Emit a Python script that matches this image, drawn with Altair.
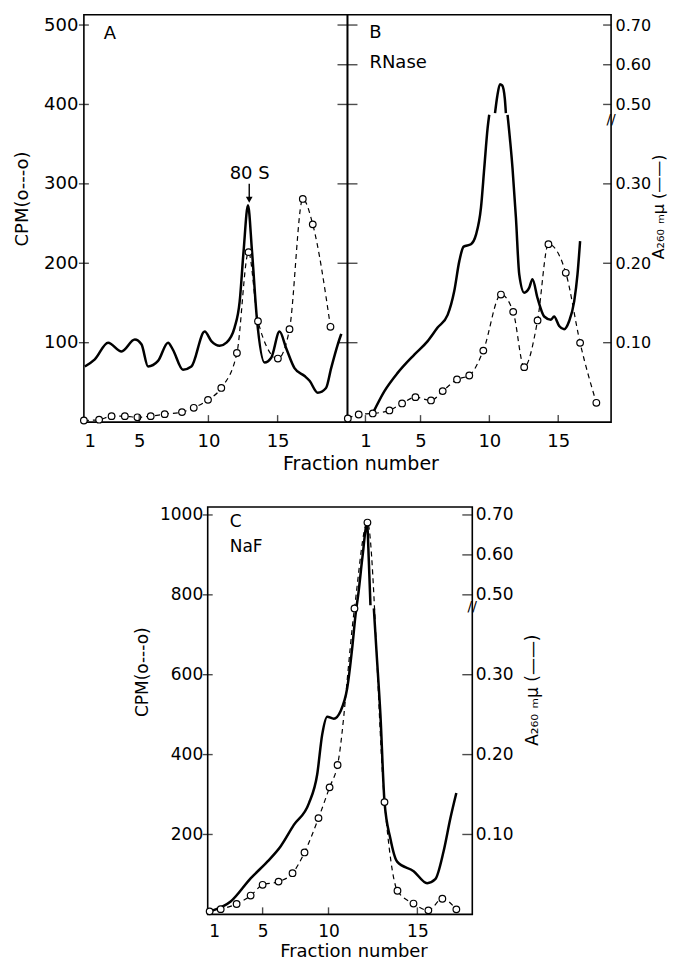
import altair as alt
import pandas as pd

FONT = "DejaVu Sans"

# ---------------- tick values ----------------
FRACTION_TICKS = [1, 5, 10, 15]
CPM_TICKS_AB = [100, 200, 300, 400, 500]
CPM_TICKS_C = [200, 400, 600, 800, 1000]
A260_TICKS = [0.10, 0.20, 0.30, 0.50, 0.60, 0.70]

# ---------------- panel A ----------------
A_CPM_FRACTION = [1.0, 2.1, 3.0, 3.96, 4.87, 5.83, 6.84, 8.09, 8.94, 9.97, 10.93,
                  12.06, 12.9, 13.58, 15.02, 15.86, 16.82, 17.54, 18.82]
A_CPM = [2, 3, 7.5, 7.5, 6, 7.5, 10, 12.6, 18, 28, 43, 87, 214, 127, 80, 117, 281, 249, 120]
A_A260_FRACTION = [1.07, 1.79, 2.75, 3.72, 4.68, 5.16, 5.64, 6.36, 7.08, 7.44, 8.16, 8.77,
                   9.73, 10.21, 10.81, 11.3, 11.89, 12.26, 12.54, 12.86, 13.15, 13.5, 14.06,
                   14.54, 15.14, 15.62, 16.22, 16.95, 17.31, 17.9, 18.5, 18.87, 19.35, 19.6]
A_A260 = [0.070, 0.079, 0.100, 0.089, 0.104, 0.098, 0.070, 0.077, 0.100, 0.091, 0.066, 0.070,
          0.114, 0.102, 0.096, 0.100, 0.119, 0.152, 0.215, 0.273, 0.215, 0.131, 0.075,
          0.081, 0.114, 0.093, 0.068, 0.058, 0.052, 0.037, 0.043, 0.068, 0.098, 0.111]
A_A260_SEGMENT = [1] * len(A_A260)

# ---------------- panel B (RNase) ----------------
B_CPM_FRACTION = [-0.28, 0.51, 1.53, 2.74, 3.66, 4.63, 5.76, 6.61, 7.65, 8.54, 9.56,
                  10.84, 11.73, 12.53, 13.5, 14.29, 15.55, 16.59, 17.77]
B_CPM = [4.6, 9.6, 10.9, 14.7, 23.5, 31.4, 27.3, 39, 53.7, 58.7, 90, 160.6, 138.8,
         69.2, 128, 224, 188, 99.8, 24.3]
B_A260_FRACTION = [1.53, 2.38, 3.34, 4.55, 5.52, 6.24, 6.97, 7.45, 7.82, 8.13, 8.66, 9.03,
                   9.39, 9.63, 9.87, 9.99,
                   10.41, 10.57, 10.77, 10.93, 11.12, 11.2,
                   11.32, 11.68, 11.93, 12.17, 12.53, 12.89, 13.13, 13.5, 13.98, 14.47, 14.7,
                   15.07, 15.43, 15.79, 16.16, 16.4, 16.59]
B_A260 = [0.011, 0.039, 0.062, 0.085, 0.102, 0.119, 0.135, 0.165, 0.203, 0.221, 0.224, 0.236,
          0.270, 0.320, 0.370, 0.387,
          0.478, 0.520, 0.551, 0.548, 0.515, 0.478,
          0.387, 0.320, 0.257, 0.186, 0.163, 0.169, 0.180, 0.156, 0.133, 0.129, 0.133,
          0.121, 0.117, 0.127, 0.152, 0.186, 0.228]
B_A260_SEGMENT = [1] * 16 + [2] * 6 + [3] * 17

# ---------------- panel C (NaF) ----------------
C_CPM_FRACTION = [1.07, 1.89, 3.07, 4.11, 5.0, 6.21, 7.27, 8.18, 9.24, 10.06, 10.51,
                  11.46, 12.19, 13.15, 13.88, 14.78, 15.62, 16.41, 17.2]
C_CPM = [7.5, 13, 26, 47, 74, 82, 103, 155, 241, 318, 374, 766, 981, 281, 59, 27, 10, 39, 12.5]
C_A260_FRACTION = [1.15, 2.63, 4.11, 5.36, 6.36, 7.37, 8.51, 9.14, 9.52, 9.9, 10.3, 10.67,
                   11.05, 11.33, 11.52, 11.69, 11.91, 12.17, 12.27, 12.36,
                   12.55, 12.7, 12.92, 13.15, 13.48, 13.86, 14.79, 15.55, 16.01, 16.48, 16.86, 17.2]
C_A260 = [0.004, 0.016, 0.045, 0.066, 0.085, 0.112, 0.139, 0.175, 0.225, 0.2475, 0.245, 0.254,
          0.283, 0.333, 0.375, 0.507, 0.595, 0.678, 0.583, 0.474,
          0.383, 0.329, 0.250, 0.141, 0.095, 0.066, 0.054, 0.039, 0.044, 0.079, 0.120, 0.152]
C_A260_SEGMENT = [1] * 20 + [2] * 12


def a260_pos(a, k):
    """Broken right axis: linear below the break, compressed above 0.50."""
    return a * k if a < 0.43 else 0.4 * k + (a - 0.5) * k / 2


def a260_df(fr, vals, seg, k):
    return pd.DataFrame({"f": fr, "pos": [a260_pos(v, k) for v in vals], "seg": seg})


def cpm_df(fr, vals):
    return pd.DataFrame({"f": fr, "pos": vals})


def X(scale, axis):
    return alt.X("f:Q", scale=scale, axis=axis)


def Y(scale, axis):
    return alt.Y("pos:Q", scale=scale, axis=axis)


def solid(df, xs, ys, xa, ya):
    return alt.Chart(df).mark_line(color="black", strokeWidth=2.5, interpolate="monotone").encode(
        x=X(xs, xa), y=Y(ys, ya), detail="seg:N")


def dashed(df, xs, ys, xa, ya):
    return alt.Chart(df).mark_line(color="black", strokeWidth=1.2, strokeDash=[5, 4],
                                   interpolate="monotone").encode(x=X(xs, xa), y=Y(ys, ya))


def circles(df, xs, ys, xa, ya):
    return alt.Chart(df).mark_circle(size=44, fill="white", stroke="black", strokeWidth=1.2,
                                     opacity=1).encode(x=X(xs, xa), y=Y(ys, ya))


def yticks(vals, xpx, size, ys, ya):
    return alt.Chart(pd.DataFrame({"pos": vals})).mark_tick(
        orient="horizontal", size=size, thickness=1.4, color="black").encode(
        x=alt.value(xpx), y=Y(ys, ya))


def xticks(vals, ypx, xs, xa):
    return alt.Chart(pd.DataFrame({"f": vals})).mark_tick(
        orient="vertical", size=7, thickness=1.4, color="black").encode(
        x=X(xs, xa), y=alt.value(ypx))


def label(f, pos, text, xs, ys, xa, ya, size, align="center"):
    return alt.Chart(pd.DataFrame({"f": [f], "pos": [pos], "t": [text]})).mark_text(
        align=align, baseline="middle", fontSize=size, font=FONT, color="black").encode(
        x=X(xs, xa), y=Y(ys, ya), text="t:N")


def brk(pos, xpx, ys, ya):
    return alt.Chart(pd.DataFrame({"pos": [pos], "t": ["//"]})).mark_text(
        align="center", baseline="middle", fontSize=14, font=FONT, color="black").encode(
        x=alt.value(xpx), y=Y(ys, ya), text="t:N")


W, H = 264, 408
A260_TITLE = "A\u2082\u2086\u2080 \u2098\u03bc  (\u2014\u2014)"

# ================= Panel A =================
xsA = alt.Scale(domain=[1, 20.05], nice=False, zero=False)
ysA = alt.Scale(domain=[0, 513], nice=False, zero=False)
xaA = alt.Axis(values=FRACTION_TICKS, format="d", title="Fraction number", labelPadding=10,
               titlePadding=4, titleX=277, titleAlign="center", labelFontSize=18, titleFontSize=19)
yaA = alt.Axis(values=CPM_TICKS_AB, format="d", orient="left", title="CPM(o---o)", labelPadding=6,
               titlePadding=12, titleY=184, labelFontSize=18, titleFontSize=18)
a_cpm = cpm_df(A_CPM_FRACTION, A_CPM)
a_abs = a260_df(A_A260_FRACTION, A_A260, A_A260_SEGMENT, 1000)
arrow_df = pd.DataFrame({"f": [12.95], "pos": [300], "pos2": [280]})
panelA = alt.layer(
    solid(a_abs, xsA, ysA, xaA, yaA),
    dashed(a_cpm, xsA, ysA, xaA, yaA),
    circles(a_cpm, xsA, ysA, xaA, yaA),
    yticks(CPM_TICKS_AB, 0, 10, ysA, yaA),
    xticks([5, 10, 15], H - 3.5, xsA, xaA),
    label(2.88, 489, "A", xsA, ysA, xaA, yaA, 18),
    label(12.98, 313, "80 S", xsA, ysA, xaA, yaA, 18),
    alt.Chart(arrow_df).mark_rule(color="black", strokeWidth=1.4).encode(
        x=X(xsA, xaA), y=Y(ysA, yaA), y2="pos2:Q"),
    alt.Chart(arrow_df).mark_point(shape="triangle-down", filled=True, color="black", size=45,
                                   opacity=1).encode(x=X(xsA, xaA), y=alt.Y("pos2:Q", scale=ysA, axis=yaA)),
).properties(width=W, height=H)

# ================= Panel B =================
xsB = alt.Scale(domain=[-0.305, 18.84], nice=False, zero=False)
ysB = alt.Scale(domain=[0, 513], nice=False, zero=False)
xaB = alt.Axis(values=FRACTION_TICKS, format="d", title=None, labelPadding=10, labelFontSize=18)
A260_POS_B = [a260_pos(v, 1000) for v in A260_TICKS]
yaB = alt.Axis(values=A260_POS_B, orient="right",
               labelExpr="datum.value < 350 ? format(datum.value/1000, '.2f') : format(0.5 + (datum.value - 400)/500, '.2f')",
               title=A260_TITLE, titleAngle=270, titleBaseline="top", labelPadding=4,
               titlePadding=0, titleY=192, labelFontSize=16, titleFontSize=16)
b_cpm = cpm_df(B_CPM_FRACTION, B_CPM)
b_abs = a260_df(B_A260_FRACTION, B_A260, B_A260_SEGMENT, 1000)
panelB = alt.layer(
    solid(b_abs, xsB, ysB, xaB, yaB),
    dashed(b_cpm, xsB, ysB, xaB, yaB),
    circles(b_cpm, xsB, ysB, xaB, yaB),
    yticks(A260_POS_B, 0, 20, ysB, yaB),
    yticks(A260_POS_B, W - 4, 8, ysB, yaB),
    xticks([1, 5, 10, 15], H - 3.5, xsB, xaB),
    label(1.73, 490, "B", xsB, ysB, xaB, yaB, 18),
    label(1.29, 452, "RNase", xsB, ysB, xaB, yaB, 18, align="left"),
    brk(381, W, ysB, yaB),
).properties(width=W, height=H)

# ================= Panel C =================
WC, HC = 265, 408
xsC = alt.Scale(domain=[1, 5, 10, 15, 18.1], range=[1, 55, 121, 210, 265], zero=False, nice=False)
ysC = alt.Scale(domain=[0, 1020], nice=False, zero=False)
xaC = alt.Axis(values=FRACTION_TICKS, format="d", title="Fraction number", labelPadding=9,
               titlePadding=3, titleX=146, titleAlign="center", labelFontSize=17, titleFontSize=18)
yaC_left = alt.Axis(values=CPM_TICKS_C, format="d", orient="left", title="CPM(o---o)", labelPadding=5,
                    titlePadding=8, titleY=165, labelFontSize=17, titleFontSize=17)
A260_POS_C = [a260_pos(v, 2000) for v in A260_TICKS]
yaC_right = alt.Axis(values=A260_POS_C, orient="right",
                     labelExpr="datum.value < 700 ? format(datum.value/2000, '.2f') : format(0.5 + (datum.value - 800)/1000, '.2f')",
                     title=A260_TITLE, titleAngle=270, titleBaseline="top", labelPadding=3,
                     titlePadding=11, titleY=183, labelFontSize=17, titleFontSize=17)
c_cpm = cpm_df(C_CPM_FRACTION, C_CPM)
c_abs = a260_df(C_A260_FRACTION, C_A260, C_A260_SEGMENT, 2000)
panelC = alt.layer(
    dashed(c_cpm, xsC, ysC, xaC, yaC_left),
    solid(c_abs, xsC, ysC, xaC, yaC_right),
    circles(c_cpm, xsC, ysC, xaC, None),
    yticks(CPM_TICKS_C, 0, 10, ysC, None),
    yticks(A260_POS_C, WC - 5, 10, ysC, None),
    xticks([5, 10, 15], HC - 3.5, xsC, xaC),
    label(2.56, 982, "C", xsC, ysC, xaC, None, 17, align="left"),
    label(2.56, 920, "NaF", xsC, ysC, xaC, None, 17, align="left"),
    brk(770, WC, ysC, None),
).resolve_scale(y="independent").properties(width=WC, height=HC)

spacer = alt.Chart(pd.DataFrame({"f": [0]})).mark_point(opacity=0).encode(
    x=alt.value(0)).properties(width=124, height=10,
                               view=alt.ViewBackground(stroke="transparent"))

top = alt.hconcat(panelA, panelB, spacing=0, bounds="flush")
bottom = alt.hconcat(spacer, panelC, spacing=0, bounds="flush")

chart = alt.vconcat(top, bottom, spacing=31).properties(
    padding={"left": 4, "top": 5, "right": 0, "bottom": 0}
).configure_axis(
    labelFont=FONT, titleFont=FONT, labelColor="black", titleColor="black",
    titleFontWeight="normal", grid=False, domain=False, ticks=False
).configure_view(stroke="black", strokeWidth=1.6).configure_text(font=FONT)

chart.save("out.html", embed_options={"renderer": "svg", "actions": False})
